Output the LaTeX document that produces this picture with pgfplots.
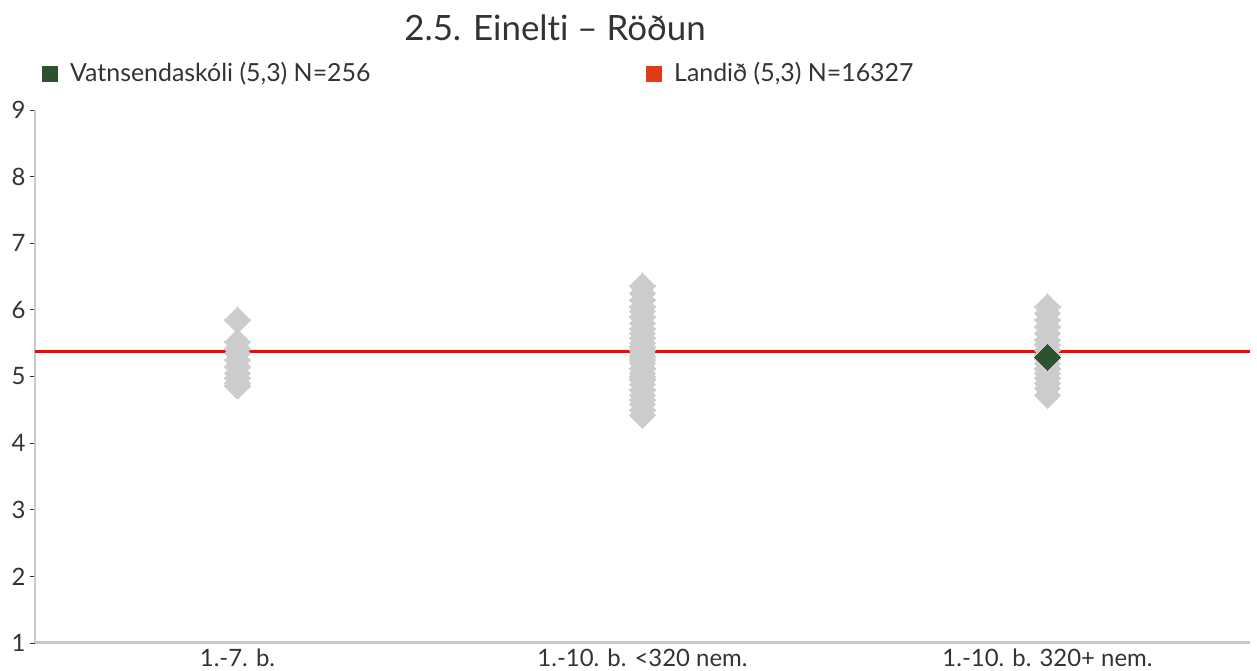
\documentclass[border=0pt]{standalone}
\usepackage{pgfplots}
\pgfplotsset{compat=1.18}
\usepackage{fontspec}
\setmainfont{Lato}[Ligatures=NoCommon]
\definecolor{axgray}{HTML}{C8C8C8}
\definecolor{ptgray}{HTML}{CCCCCC}
\definecolor{dgreen}{HTML}{2E5230}
\definecolor{lred}{HTML}{E03C14}
\definecolor{txt}{HTML}{333333}
\begin{document}
\begin{tikzpicture}[x=1bp,y=1bp]
\useasboundingbox (-35,-28) rectangle (1222,643);
\begin{axis}[
  at={(0,0)}, anchor=south west,
  scale only axis, width=1215bp, height=533bp,
  xmin=-0.5, xmax=2.5, ymin=1, ymax=9,
  ytick={1,...,9},
  xtick={0,1,2}, xticklabels={1.-7. b.,1.-10. b. <320 nem.,1.-10. b. 320+ nem.},
  axis x line*=bottom, axis y line*=left,
  axis line style={draw=axgray, line width=2.5bp, -},
  x axis line style={line width=3bp},
  major tick length=5bp,
  ytick style={draw=txt, line width=0.8bp},
  xtick style={draw=none},
  tick align=outside,
  yticklabel style={font=\fontsize{24}{26}\selectfont, text=txt, xshift=-1bp},
  xticklabel style={font=\fontsize{24}{26}\selectfont, text=txt, yshift=3bp},
  /pgf/number format/assume math mode=true,
  clip=false,
]
\addplot[only marks, color=ptgray, mark=square*, mark size=9.2bp, mark options={rotate=45, fill=ptgray, draw=ptgray, line width=0pt}] coordinates {
(0,5.85) (0,5.52) (0,5.42) (0,5.35) (0,5.25) (0,5.15) (0,5.05) (0,4.98) (0,4.9) (0,4.86)
(1,6.36) (1,6.25) (1,6.15) (1,6.05) (1,5.98) (1,5.9) (1,5.8) (1,5.72) (1,5.65) (1,5.58) (1,5.5) (1,5.45) (1,5.4) (1,5.35) (1,5.3) (1,5.25) (1,5.2) (1,5.12) (1,5.05) (1,5.0) (1,4.95) (1,4.88) (1,4.8) (1,4.72) (1,4.65) (1,4.58) (1,4.5) (1,4.42)
(2,6.05) (2,5.95) (2,5.85) (2,5.75) (2,5.65) (2,5.55) (2,5.48) (2,5.4) (2,5.33) (2,5.27) (2,5.2) (2,5.12) (2,5.05) (2,4.98) (2,4.9) (2,4.82) (2,4.72)
};
\addplot[red, line width=3bp, no marks] coordinates {(-0.5,5.37) (2.5,5.37)};
\addplot[only marks, color=dgreen, mark=square*, mark size=9.2bp, mark options={rotate=45, fill=dgreen, draw=dgreen, line width=0pt}] coordinates {(2,5.29)};
\end{axis}
% title and legend (pixel coords relative to axis origin at (35,643))
\node[anchor=center, text=txt, font=\fontsize{35}{40}\selectfont] at (555-35,643-28) {2.5. Einelti – Röðun};
\fill[dgreen] (42-35,643-82) rectangle (58-35,643-66);
\node[anchor=west, inner sep=0pt, text=txt, font=\fontsize{25}{28}\selectfont] at (70-35,643-74) {Vatnsendaskóli (5,3) N=256};
\fill[lred] (646-35,643-82) rectangle (662-35,643-66);
\node[anchor=west, inner sep=0pt, text=txt, font=\fontsize{25}{28}\selectfont] at (674-35,643-74) {Landið (5,3) N=16327};
\end{tikzpicture}
\end{document}
